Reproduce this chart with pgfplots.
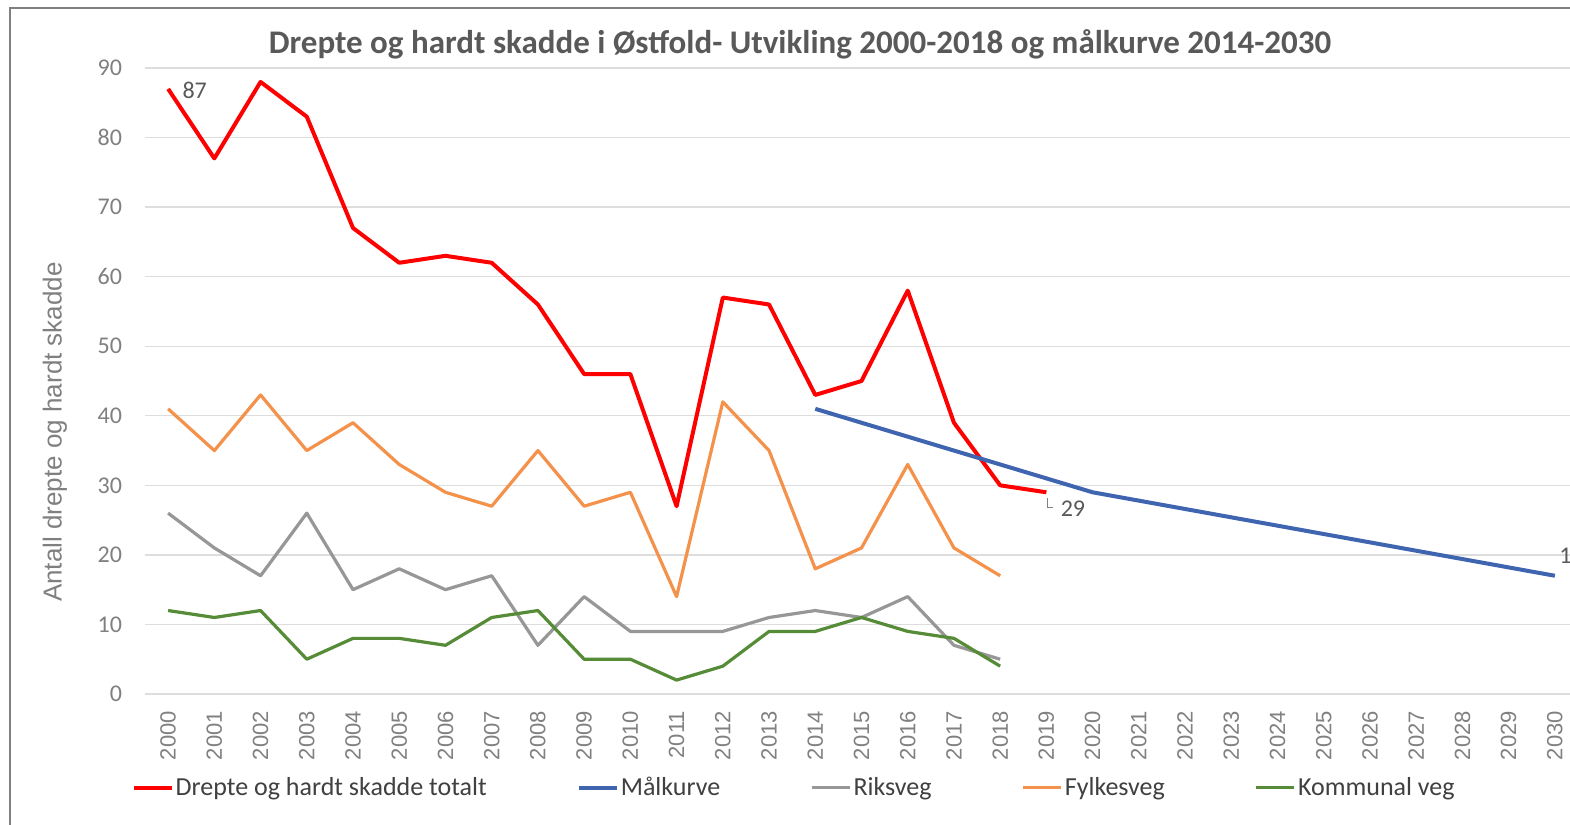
\documentclass[border=0pt]{standalone}
\usepackage{pgfplots}
\pgfplotsset{compat=1.18}
\usepackage{fontspec}
\setmainfont{Carlito}
\newfontfamily\lib{Liberation Sans}
\definecolor{cred}{HTML}{FF0000}
\definecolor{cblue}{HTML}{3F64B0}
\definecolor{cgray}{HTML}{979797}
\definecolor{corange}{HTML}{F4914A}
\definecolor{cgreen}{HTML}{568B38}
\definecolor{gridc}{HTML}{DDDDDD}
\definecolor{tickc}{HTML}{808080}
\definecolor{titlec}{HTML}{595959}
\definecolor{legc}{HTML}{404040}
\begin{document}
\begin{tikzpicture}
\useasboundingbox (0,0) rectangle (785pt,412.5pt);
\fill[white] (0,0) rectangle (785pt,412.5pt);
\draw[color=tickc, line width=0.8pt] (5pt,0) -- (5pt,408.5pt) -- (790pt,408.5pt);
\begin{axis}[
  at={(72.5pt,65.5pt)}, anchor=south west,
  scale only axis, width=716.5pt, height=313pt,
  xmin=-0.5, xmax=30.5, ymin=0, ymax=90,
  xtick={0,1,...,30},
  xticklabels={2000,2001,2002,2003,2004,2005,2006,2007,2008,2009,2010,2011,2012,2013,2014,2015,2016,2017,2018,2019,2020,2021,2022,2023,2024,2025,2026,2027,2028,2029,2030},
  ytick={0,10,...,90},
  axis line style={draw=none},
  major tick length=0pt,
  ymajorgrids, grid style={color=gridc, line width=0.7pt},
  /pgf/number format/assume math mode=true,
  xticklabel style={rotate=90, anchor=east, font=\lib\fontsize{11}{11}\selectfont, color=tickc},
  yticklabel style={font=\fontsize{12}{12}\selectfont, color=tickc},
  xticklabel shift=5pt, yticklabel shift=8pt,
  clip=false,
  legend columns=5,
  legend style={at={(0.453,-0.150)}, anchor=center, draw=none, fill=none,
    font=\fontsize{13}{13}\selectfont, text=legc,
    /tikz/every even column/.append style={column sep=44pt},
    nodes={inner xsep=1pt}},
  legend image code/.code={\draw[#1] (0pt,0pt) -- (19pt,0pt);},
]
\addplot[cred, line width=2pt, line join=round] coordinates {
(0,87) (1,77) (2,88) (3,83) (4,67) (5,62) (6,63) (7,62) (8,56) (9,46)
(10,46) (11,27) (12,57) (13,56) (14,43) (15,45) (16,58) (17,39) (18,30) (19,29)};
\addlegendentry{Drepte og hardt skadde totalt}
\addplot[cblue, line width=2pt, line join=round] coordinates {
(14,41) (15,39) (16,37) (17,35) (18,33) (19,31) (20,29) (21,27.8) (22,26.6) (23,25.4)
(24,24.2) (25,23) (26,21.8) (27,20.6) (28,19.4) (29,18.2) (30,17)};
\addlegendentry{Målkurve}
\addplot[cgray, line width=1.6pt, line join=round] coordinates {
(0,26) (1,21) (2,17) (3,26) (4,15) (5,18) (6,15) (7,17) (8,7) (9,14)
(10,9) (11,9) (12,9) (13,11) (14,12) (15,11) (16,14) (17,7) (18,5)};
\addlegendentry{Riksveg}
\addplot[corange, line width=1.6pt, line join=round] coordinates {
(0,41) (1,35) (2,43) (3,35) (4,39) (5,33) (6,29) (7,27) (8,35) (9,27)
(10,29) (11,14) (12,42) (13,35) (14,18) (15,21) (16,33) (17,21) (18,17)};
\addlegendentry{Fylkesveg}
\addplot[cgreen, line width=1.6pt, line join=round] coordinates {
(0,12) (1,11) (2,12) (3,5) (4,8) (5,8) (6,7) (7,11) (8,12) (9,5)
(10,5) (11,2) (12,4) (13,9) (14,9) (15,11) (16,9) (17,8) (18,4)};
\addlegendentry{Kommunal veg}
\node[anchor=west, color=titlec, font=\fontsize{12}{12}\selectfont, inner sep=0pt] at ([xshift=7pt,yshift=-1pt]axis cs:0,87) {87};
\draw[color=tickc, line width=0.4pt] ([xshift=0.5pt,yshift=-3pt]axis cs:19,29) -- ([xshift=0.5pt,yshift=-7.5pt]axis cs:19,29) -- ([xshift=3.5pt,yshift=-7.5pt]axis cs:19,29);
\node[anchor=west, color=titlec, font=\fontsize{12}{12}\selectfont, inner sep=0pt] at ([xshift=7pt,yshift=-8pt]axis cs:19,29) {29};
\node[anchor=south west, color=titlec, font=\fontsize{12}{12}\selectfont, inner sep=0pt] at ([xshift=2pt,yshift=6pt]axis cs:30,17) {17};
\end{axis}
\node[color=titlec, font=\bfseries\fontsize{16.5}{16.5}\selectfont] at (400pt,390.5pt) {Drepte og hardt skadde i Østfold- Utvikling 2000-2018 og målkurve 2014-2030};
\node[rotate=90, color=tickc, font=\lib\fontsize{13}{13}\selectfont] at (27.5pt,196.5pt) {Antall drepte og hardt skadde};
\end{tikzpicture}
\end{document}
